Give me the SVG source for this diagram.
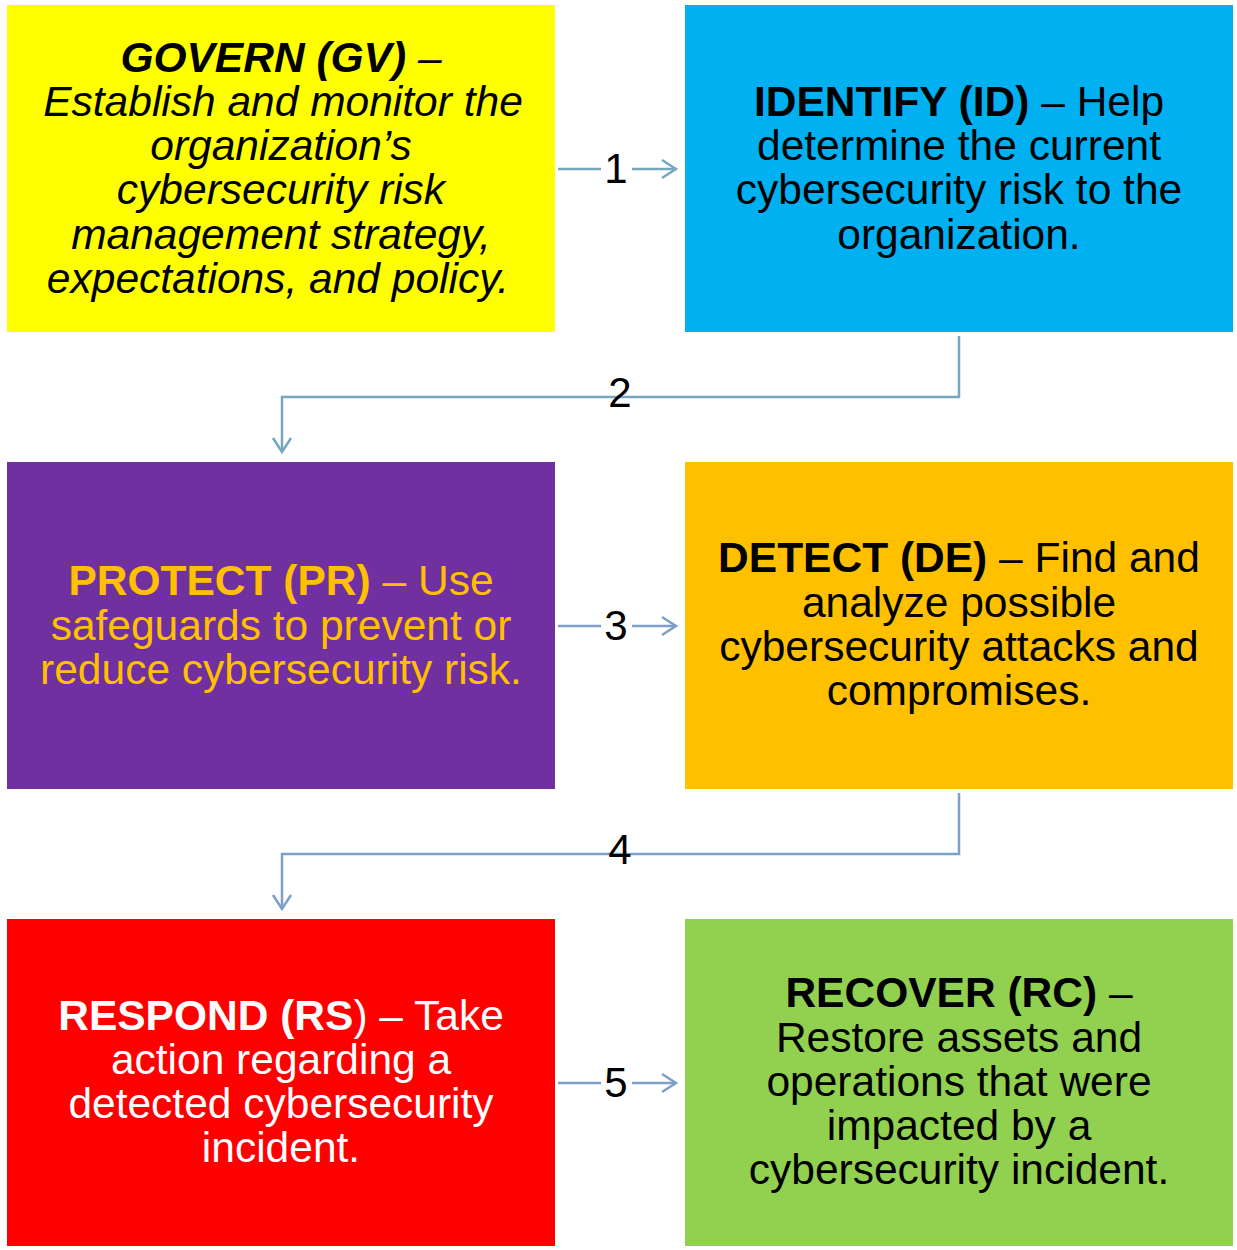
<svg xmlns="http://www.w3.org/2000/svg" width="1237" height="1250" viewBox="0 0 1237 1250">
<style>
text{font-family:"Liberation Sans",Arial,sans-serif;font-size:42.5px;text-anchor:middle}
.b{font-weight:bold}
.i{font-style:italic}
.c1{stroke:#75A8BE;stroke-width:2.5;fill:none}
.c2{stroke:#7D9FC8;stroke-width:2.5;fill:none}
.num{font-size:42px;fill:#000}
</style>
<defs>
<marker id="ah1" markerUnits="userSpaceOnUse" markerWidth="30" markerHeight="30" refX="15" refY="15" orient="auto" overflow="visible">
<polyline points="1,6 15,15 1,24" fill="none" stroke="#75A8BE" stroke-width="2.5"/>
</marker>
<marker id="ah2" markerUnits="userSpaceOnUse" markerWidth="30" markerHeight="30" refX="15" refY="15" orient="auto" overflow="visible">
<polyline points="1,6 15,15 1,24" fill="none" stroke="#7D9FC8" stroke-width="2.5"/>
</marker>
</defs>
<rect width="1237" height="1250" fill="#fff"/>
<g id="govern">
<rect x="7" y="5" width="548" height="327" fill="#FFFF00"/>
<text class="i" x="281" y="72"><tspan class="b">GOVERN (GV)</tspan> –</text>
<text class="i" x="283" y="116">Establish and monitor the</text>
<text class="i" x="281" y="160">organization’s</text>
<text class="i" x="281" y="204">cybersecurity risk</text>
<text class="i" x="281" y="249">management strategy,</text>
<text class="i" x="278" y="293">expectations, and policy.</text>
</g>
<g id="identify">
<rect x="685" y="5" width="548" height="327" fill="#00B0F0"/>
<text x="959" y="116"><tspan class="b">IDENTIFY (ID)</tspan> – Help</text>
<text x="959" y="160">determine the current</text>
<text x="959" y="204">cybersecurity risk to the</text>
<text x="959" y="249">organization.</text>
</g>
<g id="protect">
<rect x="7" y="462" width="548" height="327" fill="#7030A0"/>
<text x="281" y="595" fill="#FFC000"><tspan class="b">PROTECT (PR)</tspan> – Use</text>
<text x="281" y="640" fill="#FFC000">safeguards to prevent or</text>
<text x="281" y="684" fill="#FFC000">reduce cybersecurity risk.</text>
</g>
<g id="detect">
<rect x="685" y="462" width="548" height="327" fill="#FFC000"/>
<text x="959" y="572"><tspan class="b">DETECT (DE)</tspan> – Find and</text>
<text x="959" y="617">analyze possible</text>
<text x="959" y="661">cybersecurity attacks and</text>
<text x="959" y="705">compromises.</text>
</g>
<g id="respond">
<rect x="7" y="919" width="548" height="327" fill="#FF0000"/>
<text x="281" y="1030" fill="#fff"><tspan class="b">RESPOND (RS</tspan>) – Take</text>
<text x="281" y="1074" fill="#fff">action regarding a</text>
<text x="281" y="1118" fill="#fff">detected cybersecurity</text>
<text x="281" y="1162" fill="#fff">incident.</text>
</g>
<g id="recover">
<rect x="685" y="919" width="548" height="327" fill="#92D050"/>
<text x="959" y="1007"><tspan class="b">RECOVER (RC)</tspan> –</text>
<text x="959" y="1052">Restore assets and</text>
<text x="959" y="1096">operations that were</text>
<text x="959" y="1140">impacted by a</text>
<text x="959" y="1184">cybersecurity incident.</text>
</g>
<g id="connectors">
<line class="c1" x1="558" y1="169" x2="601" y2="169"/>
<line class="c1" x1="632" y1="169" x2="676" y2="169" marker-end="url(#ah1)"/>
<text class="num" x="616" y="183">1</text>
<polyline class="c1" points="959,336 959,397 282,397 282,452" marker-end="url(#ah1)"/>
<text class="num" x="620" y="407">2</text>
<line class="c2" x1="558" y1="626" x2="601" y2="626"/>
<line class="c2" x1="632" y1="626" x2="676" y2="626" marker-end="url(#ah2)"/>
<text class="num" x="616" y="640">3</text>
<polyline class="c2" points="959,793 959,854 282,854 282,909" marker-end="url(#ah2)"/>
<text class="num" x="620" y="864">4</text>
<line class="c2" x1="558" y1="1083" x2="601" y2="1083"/>
<line class="c2" x1="632" y1="1083" x2="676" y2="1083" marker-end="url(#ah2)"/>
<text class="num" x="616" y="1097">5</text>
</g>
</svg>
